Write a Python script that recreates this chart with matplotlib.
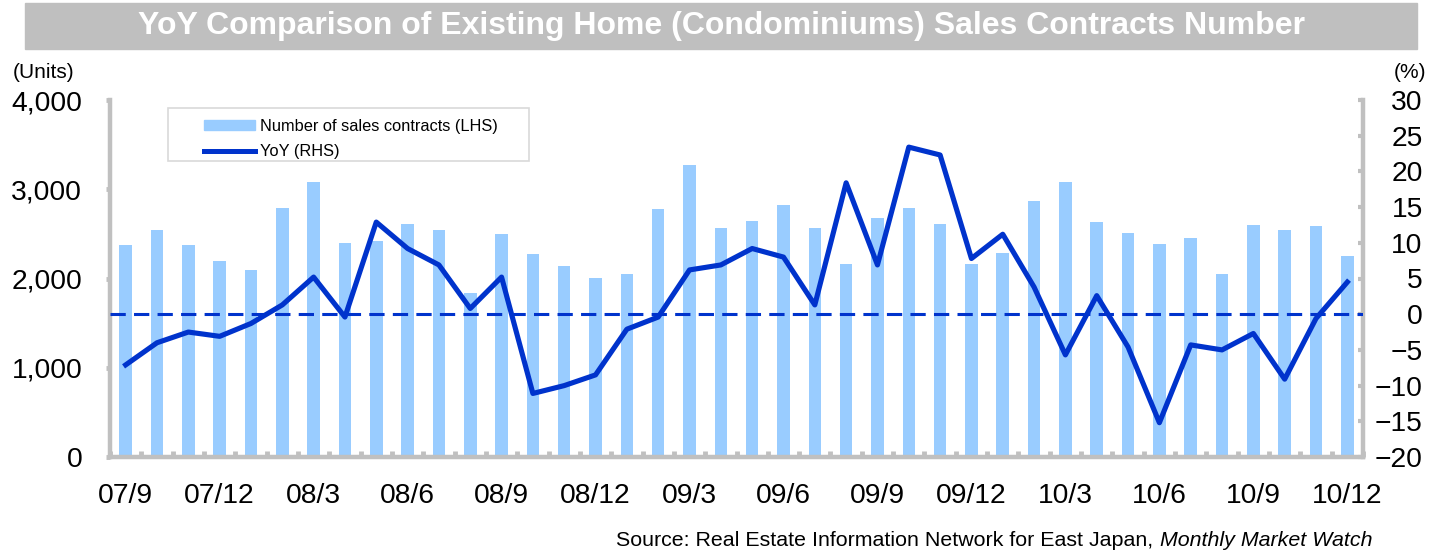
import numpy as np
import matplotlib
matplotlib.use("Agg")
from matplotlib import pyplot as plt
from matplotlib.patches import Rectangle
from matplotlib.lines import Line2D
from matplotlib.ticker import FuncFormatter

plt.rcParams['font.family'] = ['Liberation Sans', 'DejaVu Sans']

# monthly data, 2007/9 .. 2010/12
months = ["07/9", "07/10", "07/11", "07/12", "08/1", "08/2", "08/3", "08/4", "08/5", "08/6",
          "08/7", "08/8", "08/9", "08/10", "08/11", "08/12", "09/1", "09/2", "09/3", "09/4",
          "09/5", "09/6", "09/7", "09/8", "09/9", "09/10", "09/11", "09/12", "10/1", "10/2",
          "10/3", "10/4", "10/5", "10/6", "10/7", "10/8", "10/9", "10/10", "10/11", "10/12"]
contracts = [2371, 2547, 2371, 2192, 2092, 2793, 3079, 2397, 2416, 2614,
             2539, 1838, 2502, 2269, 2136, 2006, 2047, 2774, 3274, 2561,
             2640, 2819, 2565, 2167, 2673, 2793, 2606, 2159, 2282, 2864,
             3079, 2629, 2513, 2390, 2450, 2055, 2595, 2539, 2592, 2256]
yoy = [-7.1, -4.0, -2.5, -3.1, -1.3, 1.3, 5.2, -0.4, 12.9, 9.2,
       6.9, 0.8, 5.2, -11.1, -10.0, -8.5, -2.1, -0.4, 6.2, 6.9,
       9.2, 8.0, 1.3, 18.4, 6.9, 23.4, 22.3, 7.8, 11.2, 3.8,
       -5.7, 2.6, -4.6, -15.2, -4.3, -5.0, -2.7, -9.1, -0.6, 4.5]

BAR = "#99CCFF"
LINE = "#0033CC"
GRAY = "#C0C0C0"
W, H = 1429, 555

fig = plt.figure(figsize=(W / 100, H / 100), dpi=100)

# title band
fig.patches.append(Rectangle((25 / W, 1 - 49 / H), (1417 - 25) / W, 46 / H,
                             transform=fig.transFigure, color="#BFBFBF", zorder=0))
fig.text(721 / W, 1 - 26 / H, "YoY Comparison of Existing Home (Condominiums) Sales Contracts Number",
         color="white", fontsize=23, fontweight="bold", ha="center", va="center")

ax = fig.add_axes([110 / W, 1 - 457 / H, (1363 - 110) / W, (457 - 100) / H])
x = np.arange(len(months))
ax.bar(x, contracts, width=0.4, color=BAR, zorder=2)
ax.set_xlim(-0.5, len(months) - 0.5)
ax.set_ylim(0, 4000)
ax.set_yticks(range(0, 4001, 1000))
ax.yaxis.set_major_formatter(FuncFormatter(lambda v, p: f"{int(v):,}"))
ax.set_xticks(x[::3])
ax.set_xticklabels(months[::3])
ax.set_xticks(np.arange(-0.5, len(months), 1), minor=True)
ax.tick_params(axis="x", which="major", length=0, pad=19, labelsize=20.3)
ax.tick_params(axis="x", which="minor", direction="in", length=4, width=3.5, color=GRAY)
ax.tick_params(axis="y", direction="out", length=3, width=3.5, color=GRAY, pad=17, labelsize=20.3)

for s in ["top", "right"]:
    ax.spines[s].set_visible(False)
for s in ["left", "bottom"]:
    ax.spines[s].set_color(GRAY)
    ax.spines[s].set_linewidth(3.2)

ax2 = ax.twinx()
ax2.plot(x, yoy, color=LINE, linewidth=3.7, zorder=3)
ax2.axhline(0, color=LINE, linewidth=2.2, linestyle=(0, (5, 2.7)), zorder=3)
ax2.set_ylim(-20, 30)
ax2.set_yticks(range(-20, 31, 5))
ax2.tick_params(axis="y", direction="in", length=3.6, width=3, color=GRAY, pad=43, labelsize=20.3)
for lab in ax2.get_yticklabels():
    lab.set_horizontalalignment("right")
for s in ["top", "left", "bottom"]:
    ax2.spines[s].set_visible(False)
ax2.spines["right"].set_color(GRAY)
ax2.spines["right"].set_linewidth(3.2)

fig.text(13 / W, 1 - 73 / H, "(Units)", fontsize=15, ha="left", va="center")
fig.text(1426 / W, 1 - 72 / H, "(%)", fontsize=15, ha="right", va="center")

# legend with a separate square box
fig.patches.append(Rectangle((168 / W, 1 - 161 / H), (529 - 168) / W, (161 - 108) / H,
                             transform=fig.transFigure, facecolor="white",
                             edgecolor="#D9D9D9", linewidth=1.2, zorder=4))
handles = [Rectangle((0, 0), 1, 1, color=BAR), Line2D([], [], color=LINE, linewidth=3.6)]
fig.legend(handles, ["Number of sales contracts (LHS)", "YoY (RHS)"],
           loc="upper left", bbox_to_anchor=(196 / W, 1 - 111 / H), bbox_transform=fig.transFigure,
           frameon=False, fontsize=11.8, borderpad=0, handlelength=3.1, handleheight=0.55,
           handletextpad=0.3, labelspacing=0.6)

# source note, italic part right aligned
it = fig.text(1372 / W, 1 - 541 / H, "Monthly Market Watch", fontsize=15.4, style="italic",
              ha="right", va="center")
fig.canvas.draw()
bb = it.get_window_extent()
fig.text(bb.x0 / W, 1 - 541 / H, "Source: Real Estate Information Network for East Japan, ",
         fontsize=15.4, ha="right", va="center")

fig.savefig("out.png", dpi=100)
